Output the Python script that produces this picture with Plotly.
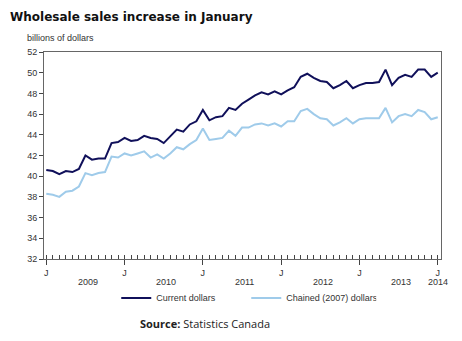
import plotly.graph_objects as go

months = [f"{m} {y}" for y in range(2009, 2015) for m in
          ["Jan", "Feb", "Mar", "Apr", "May", "Jun", "Jul", "Aug", "Sep", "Oct", "Nov", "Dec"]][:61]

current_dollars = [
    40.6, 40.5, 40.2, 40.5, 40.4, 40.7, 42.0, 41.6, 41.7, 41.7, 43.2, 43.3,
    43.7, 43.4, 43.5, 43.9, 43.7, 43.6, 43.2, 43.9, 44.5, 44.3, 45.0, 45.3,
    46.4, 45.4, 45.7, 45.8, 46.6, 46.4, 47.0, 47.4, 47.8, 48.1, 47.9, 48.2,
    47.9, 48.3, 48.6, 49.6, 49.9, 49.5, 49.2, 49.1, 48.5, 48.8, 49.2, 48.5,
    48.8, 49.0, 49.0, 49.1, 50.3, 48.8, 49.5, 49.8, 49.6, 50.3, 50.3, 49.6,
    50.0,
]
chained_2007_dollars = [
    38.3, 38.2, 38.0, 38.5, 38.6, 39.0, 40.3, 40.1, 40.3, 40.4, 41.9, 41.8,
    42.2, 42.0, 42.2, 42.4, 41.8, 42.1, 41.7, 42.2, 42.8, 42.6, 43.1, 43.5,
    44.6, 43.5, 43.6, 43.7, 44.4, 43.9, 44.7, 44.7, 45.0, 45.1, 44.9, 45.1,
    44.8, 45.3, 45.3, 46.3, 46.5, 46.0, 45.6, 45.5, 44.9, 45.2, 45.6, 45.1,
    45.5, 45.6, 45.6, 45.6, 46.6, 45.2, 45.8, 46.0, 45.8, 46.4, 46.2, 45.5,
    45.7,
]
years = ["2009", "2010", "2011", "2012", "2013", "2014"]
y_ticks = [32, 34, 36, 38, 40, 42, 44, 46, 48, 50, 52]

x = list(range(len(months)))

fig = go.Figure()
fig.add_trace(go.Scatter(x=x, y=current_dollars, mode="lines", name="Current dollars",
                         line=dict(color="#10105a", width=2), text=months,
                         hovertemplate="%{text}: %{y}<extra></extra>"))
fig.add_trace(go.Scatter(x=x, y=chained_2007_dollars, mode="lines", name="Chained (2007) dollars",
                         line=dict(color="#9fcbea", width=2), text=months,
                         hovertemplate="%{text}: %{y}<extra></extra>"))

jan_idx = [i for i, m in enumerate(months) if m.startswith("Jan")]

annotations = []
for k, yr in enumerate(years):
    pos = jan_idx[k] + 6.4 if k < len(years) - 1 else jan_idx[k]
    annotations.append(dict(x=pos, y=-0.11, xref="x", yref="paper", text=yr, showarrow=False,
                            font=dict(family="Liberation Sans", size=9, color="#333333"),
                            xanchor="center", yanchor="middle"))

annotations.append(dict(x=-0.048, y=1.068, xref="paper", yref="paper", text="billions of dollars",
                        showarrow=False, xanchor="left", yanchor="middle",
                        font=dict(family="Liberation Sans", size=9, color="#333333")))
annotations.append(dict(x=0.406, y=-0.314, xref="paper", yref="paper",
                        text="<b>Source:</b> Statistics Canada", showarrow=False,
                        xanchor="center", yanchor="middle",
                        font=dict(family="Open Sans", size=11, color="#222222")))

fig.update_layout(
    width=462, height=341,
    margin=dict(l=44, r=21, t=52, b=82),
    paper_bgcolor="white", plot_bgcolor="white",
    title=dict(text="<b>Wholesale sales increase in January</b>", xref="container", yref="container",
               x=10 / 462, y=1 - 17 / 341, xanchor="left", yanchor="middle",
               font=dict(family="DejaVu Sans", size=12, color="#111111")),
    showlegend=True,
    legend=dict(orientation="h", x=0.182, y=-0.188, xanchor="left", yanchor="middle",
                font=dict(family="Liberation Sans", size=9, color="#333333"),
                itemwidth=30, entrywidth=85, entrywidthmode="pixels", bgcolor="rgba(0,0,0,0)"),
    annotations=annotations,
    hovermode="closest",
)
fig.update_xaxes(
    range=[-0.35, 60.5], tickmode="array", tickvals=jan_idx, ticktext=["J"] * len(jan_idx),
    ticks="outside", ticklen=5, tickcolor="#444444", showgrid=False, zeroline=False,
    showline=True, linecolor="#666666", linewidth=1, mirror=True,
    tickfont=dict(family="Liberation Sans", size=9, color="#333333"),
    minor=dict(tickmode="linear", tick0=0, dtick=1, ticks="inside", ticklen=4, tickcolor="#444444"),
)
fig.update_yaxes(
    range=[32, 52], tickmode="array", tickvals=y_ticks, ticks="outside", ticklen=4,
    tickcolor="#444444", showgrid=False, zeroline=False,
    showline=True, linecolor="#666666", linewidth=1, mirror=True,
    tickfont=dict(family="Liberation Sans", size=9, color="#333333"),
)

fig.write_html("out.html")
